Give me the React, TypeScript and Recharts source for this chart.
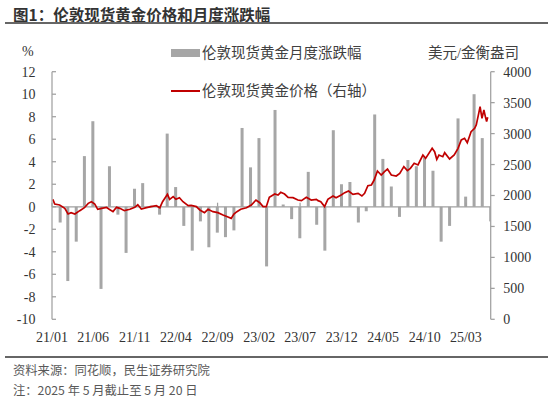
import React from 'react';
import { ComposedChart, Bar, Line, XAxis, YAxis, ReferenceLine } from 'recharts';

// ---- data ----
const months = [
  '21/01','21/02','21/03','21/04','21/05','21/06','21/07','21/08','21/09','21/10','21/11','21/12',
  '22/01','22/02','22/03','22/04','22/05','22/06','22/07','22/08','22/09','22/10','22/11','22/12',
  '23/01','23/02','23/03','23/04','23/05','23/06','23/07','23/08','23/09','23/10','23/11','23/12',
  '24/01','24/02','24/03','24/04','24/05','24/06','24/07','24/08','24/09','24/10','24/11','24/12',
  '25/01','25/02','25/03','25/04','25/05',
];
const monthlyChange = [
  -1.4, -6.6, -3.1, 4.5, 7.6, -7.3, 3.6, -0.7, -4.1, 1.6, 2.1, 0.1,
  -0.7, 6.5, 1.75, -1.7, -3.9, -1.3, -3.6, -2.3, -2.7, -2.1, 7.0, 3.5,
  6.1, -5.3, 8.6, 0.2, -1.1, -2.8, 3.1, -1.6, -3.9, 6.8, 2.0, 2.2,
  -1.4, -0.4, 8.2, 4.25, 1.8, -0.9, 4.15, 3.6, 4.4, 3.2, -3.1, -1.7,
  7.85, 0.9, 10.0, 6.1, -1.3,
];
const tickLabels = ['21/01','21/06','21/11','22/04','22/09','23/02','23/07','23/12','24/05','24/10','25/03'];

const priceDates = [
  '2021-01-04','2021-01-11','2021-01-29','2021-02-17','2021-03-01','2021-03-12','2021-03-26','2021-04-13','2021-04-30','2021-05-14',
  '2021-05-26','2021-06-07','2021-06-18','2021-07-02','2021-07-20','2021-07-30','2021-08-13','2021-08-26','2021-09-07','2021-09-24',
  '2021-10-14','2021-11-01','2021-11-12','2021-11-25','2021-12-14','2021-12-31','2022-01-19','2022-02-01','2022-02-11','2022-03-01',
  '2022-03-09','2022-03-22','2022-04-01','2022-04-14','2022-04-27','2022-05-16','2022-05-27','2022-06-15','2022-06-28','2022-07-15',
  '2022-07-28','2022-08-15','2022-09-02','2022-09-21','2022-10-07','2022-10-21','2022-10-31','2022-11-11','2022-11-25','2022-12-16',
  '2023-01-03','2023-01-20','2023-02-03','2023-02-15','2023-02-27','2023-03-10','2023-03-30','2023-04-11','2023-04-21','2023-05-05',
  '2023-05-18','2023-06-05','2023-06-23','2023-07-06','2023-07-24','2023-08-11','2023-08-30','2023-09-05','2023-09-15','2023-09-29',
  '2023-10-11','2023-10-30','2023-11-10','2023-11-29','2023-12-12','2023-12-26','2024-01-11','2024-01-30','2024-02-13','2024-02-23',
  '2024-03-06','2024-03-19','2024-03-29','2024-04-10','2024-04-24','2024-05-06','2024-05-17','2024-05-31','2024-06-18','2024-07-01',
  '2024-07-16','2024-07-29','2024-08-09','2024-08-23','2024-09-06','2024-09-24','2024-10-04','2024-10-28','2024-11-06','2024-11-14',
  '2024-11-22','2024-12-06','2024-12-13','2024-12-31','2025-01-17','2025-01-31','2025-02-12','2025-02-24','2025-03-06','2025-03-20',
  '2025-04-02','2025-04-08','2025-04-17','2025-04-22','2025-04-29','2025-05-06','2025-05-12','2025-05-16','2025-05-20',
];
const priceValues = [
  1938, 1863, 1847, 1793, 1701, 1723, 1701, 1755, 1803, 1873,
  1900, 1863, 1777, 1793, 1809, 1777, 1739, 1809, 1793, 1755,
  1777, 1809, 1850, 1782, 1803, 1820, 1836, 1803, 1900, 2019,
  1938, 1981, 1938, 1965, 1900, 1836, 1841, 1820, 1766, 1723,
  1777, 1739, 1723, 1685, 1658, 1631, 1701, 1739, 1777, 1803,
  1847, 1927, 1884, 1820, 1820, 1970, 2024, 2008, 2051, 2024,
  1970, 1965, 1927, 1917, 1970, 1927, 1938, 1917, 1900, 1820,
  1938, 1992, 1965, 2008, 2046, 2073, 2019, 2035, 1992, 2035,
  2159, 2170, 2250, 2396, 2331, 2385, 2428, 2331, 2315, 2358,
  2466, 2401, 2439, 2520, 2493, 2654, 2600, 2762, 2708, 2584,
  2654, 2627, 2692, 2590, 2654, 2762, 2897, 2924, 2853, 3031,
  3085, 3139, 3327, 3435, 3247, 3381, 3263, 3193, 3263,
];

const leftTicks = [-10, -8, -6, -4, -2, 0, 2, 4, 6, 8, 10, 12];
const rightTicks = [0, 500, 1000, 1500, 2000, 2500, 3000, 3500, 4000];

const barName = '伦敦现货黄金月度涨跌幅';
const lineName = '伦敦现货黄金价格（右轴）';
const barColor = '#a6a6a6';
const lineColor = '#c00000';
const axisColor = '#a0a0a0';
const BAR_WIDTH = 3;

// ---- helpers: dates -> day numbers from 2021-01-01 ----
const BASE = Date.UTC(2021, 0, 1);
const DAY = 86400000;
const monthEndDay = (label: string) => {
  const [yy, mm] = label.split('/').map(Number);
  return (Date.UTC(2000 + yy, mm, 0) - BASE) / DAY;
};
const monthStartDay = (label: string) => {
  const [yy, mm] = label.split('/').map(Number);
  return (Date.UTC(2000 + yy, mm - 1, 1) - BASE) / DAY;
};
const dateDay = (s: string) => {
  const [y, m, d] = s.split('-').map(Number);
  return (Date.UTC(y, m - 1, d) - BASE) / DAY;
};

const barData = months.map((m, i) => ({ day: monthEndDay(m), change: monthlyChange[i] }));
const priceData = priceDates.map((d, i) => ({ day: dateDay(d), price: priceValues[i] }));
const labelDays = tickLabels.map(monthStartDay);
const labelByDay: Record<number, string> = {};
tickLabels.forEach((l, i) => { labelByDay[labelDays[i]] = l; });
const domainEnd = monthEndDay(months[months.length - 1]);

const serif = "'Liberation Serif', 'Times New Roman', 'Noto Sans CJK SC', serif";
const cjk = "'Noto Sans CJK SC', sans-serif";

// fixed-width bar centred on its date position
const ThinBar = (props: any) => {
  const { x, y, width, height, fill } = props;
  if (x == null || y == null || height == null) return null;
  const cx = x + width / 2;
  const top = height < 0 ? y + height : y;
  return <rect x={cx - BAR_WIDTH / 2} y={top} width={BAR_WIDTH} height={Math.abs(height)} fill={fill} />;
};

export default function App() {
  return (
    <div style={{ position: 'absolute', left: 0, top: 0, width: 550, height: 399, background: '#fff', overflow: 'hidden' }}>
      <div style={{ position: 'absolute', left: 13, top: 5, fontFamily: cjk, fontWeight: 700, fontSize: 15.5, lineHeight: '18px', color: '#333', whiteSpace: 'nowrap' }}>
        图1：伦敦现货黄金价格和月度涨跌幅
      </div>
      <div style={{ position: 'absolute', left: 5, top: 22, width: 543, height: 2, background: '#666' }} />

      <ComposedChart
        width={550}
        height={399}
        data={barData}
        margin={{ top: 71.7, right: 14.3, left: 12, bottom: 49.7 }}
      >
        <XAxis
          dataKey="day"
          type="number"
          domain={[0, domainEnd]}
          allowDataOverflow
          ticks={labelDays}
          interval={0}
          tickFormatter={(v: number) => labelByDay[v] ?? ''}
          axisLine={false}
          tickLine={false}
          tickSize={0}
          tickMargin={13}
          height={30}
          tick={{ fontSize: 14, fill: '#333', fontFamily: serif }}
        />
        <YAxis
          yAxisId="left"
          domain={[-10, 12]}
          ticks={leftTicks}
          interval={0}
          width={40}
          tickSize={-4}
          tickMargin={20.5}
          axisLine={{ stroke: axisColor, strokeWidth: 1.25 }}
          tickLine={{ stroke: axisColor, strokeWidth: 1.25 }}
          tick={{ fontSize: 14, fill: '#333', fontFamily: serif }}
        />
        <YAxis
          yAxisId="right"
          orientation="right"
          domain={[0, 4000]}
          ticks={rightTicks}
          interval={0}
          width={45}
          tickSize={4}
          tickMargin={8.6}
          axisLine={{ stroke: axisColor, strokeWidth: 1.25 }}
          tickLine={{ stroke: axisColor, strokeWidth: 1.25 }}
          tick={{ fontSize: 14, fill: '#333', fontFamily: serif }}
        />
        <ReferenceLine yAxisId="left" y={0} stroke={axisColor} strokeWidth={1.25} />
        {labelDays.map((d) => (
          <ReferenceLine
            key={d}
            yAxisId="left"
            segment={[{ x: d, y: 0 }, { x: d, y: 0.36 }]}
            stroke={axisColor}
            strokeWidth={1.25}
          />
        ))}
        <Bar yAxisId="left" dataKey="change" name={barName} fill={barColor} shape={ThinBar} isAnimationActive={false} />
        <Line
          yAxisId="right"
          data={priceData}
          dataKey="price"
          name={lineName}
          type="linear"
          stroke={lineColor}
          strokeWidth={1.7}
          dot={false}
          isAnimationActive={false}
        />
      </ComposedChart>

      {/* units */}
      <div style={{ position: 'absolute', left: 22, top: 43, fontFamily: serif, fontSize: 14, lineHeight: '17px', color: '#333' }}>%</div>
      <div style={{ position: 'absolute', left: 428, top: 44, fontFamily: serif, fontSize: 14.5, lineHeight: '18px', color: '#404040', whiteSpace: 'nowrap' }}>美元/金衡盎司</div>

      {/* legend */}
      <div style={{ position: 'absolute', left: 171, top: 49, width: 29, height: 7.5, background: barColor }} />
      <div style={{ position: 'absolute', left: 202, top: 43.7, fontFamily: serif, fontSize: 14.5, lineHeight: '18px', color: '#404040', whiteSpace: 'nowrap' }}>{barName}</div>
      <div style={{ position: 'absolute', left: 171, top: 90, width: 29, height: 2, background: lineColor }} />
      <div style={{ position: 'absolute', left: 202, top: 82, fontFamily: serif, fontSize: 14.5, lineHeight: '18px', color: '#404040', whiteSpace: 'nowrap' }}>{lineName}</div>

      {/* footer */}
      <div style={{ position: 'absolute', left: 5, top: 356, width: 543, height: 1.5, background: '#666' }} />
      <div style={{ position: 'absolute', left: 13, top: 362, fontFamily: cjk, fontSize: 12.3, lineHeight: '17px', color: '#595959', whiteSpace: 'nowrap' }}>资料来源：同花顺，民生证券研究院</div>
      <div style={{ position: 'absolute', left: 13, top: 381.5, fontFamily: cjk, fontSize: 12.3, lineHeight: '17px', color: '#595959', whiteSpace: 'nowrap' }}>注：2025 年 5 月截止至 5 月 20 日</div>
    </div>
  );
}
